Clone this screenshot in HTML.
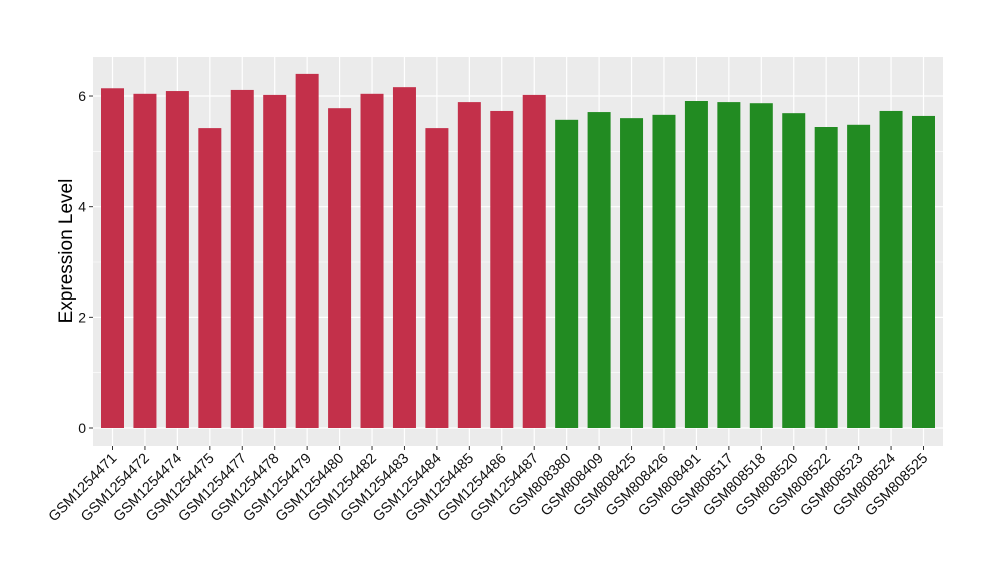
<!DOCTYPE html>
<html><head><meta charset="utf-8"><style>
body{margin:0;background:#fff;}
svg text{font-family:"Liberation Sans",Arial,sans-serif;}
</style></head><body>
<svg id="chart" width="1000" height="580">
<rect x="93" y="57" width="850" height="389" fill="#ebebeb"/>
<g id="grid"></g>
<g id="bars"></g>
<g id="axes"></g>
<text transform="translate(72,251) rotate(-90)" text-anchor="middle" font-size="19" fill="#000">Expression Level</text>
</svg>
<script>
const categories=["GSM1254471","GSM1254472","GSM1254474","GSM1254475","GSM1254477","GSM1254478","GSM1254479","GSM1254480","GSM1254482","GSM1254483","GSM1254484","GSM1254485","GSM1254486","GSM1254487","GSM808380","GSM808409","GSM808425","GSM808426","GSM808491","GSM808517","GSM808518","GSM808520","GSM808522","GSM808523","GSM808524","GSM808525"];
const values=[6.14,6.04,6.09,5.42,6.11,6.02,6.40,5.78,6.04,6.16,5.42,5.89,5.73,6.02,5.57,5.71,5.60,5.66,5.91,5.89,5.87,5.69,5.44,5.48,5.73,5.64];
const groups=["a","a","a","a","a","a","a","a","a","a","a","a","a","a","b","b","b","b","b","b","b","b","b","b","b","b"];
const yTicks=[0,2,4,6];
const yMinor=[1,3,5];
const colors={a:"#c3304a",b:"#228b22"};
const NS="http://www.w3.org/2000/svg";
const y=v=>428-v*55.33;
const x=i=>112.5+i*32.44;
const bw=23;
function mk(t,a,p){const e=document.createElementNS(NS,t);for(const k in a)e.setAttribute(k,a[k]);p.appendChild(e);return e;}
const grid=document.getElementById('grid'),bars=document.getElementById('bars'),axes=document.getElementById('axes');
yMinor.forEach(v=>{const l=mk('line',{x1:93,x2:943,y1:y(v),y2:y(v),stroke:'#fff','stroke-width':0.6},grid);

});
yTicks.forEach(v=>{const l=mk('line',{x1:93,x2:943,y1:y(v),y2:y(v),stroke:'#fff','stroke-width':1.2},grid);


const t=mk('line',{x1:89,x2:93,y1:y(v),y2:y(v),stroke:'#333','stroke-width':1},axes);


const tx=mk('text',{x:86,y:y(v)+5,'text-anchor':'end','font-size':14,fill:'#111'},axes);tx.textContent=v;

});
categories.forEach((c,i)=>{
const gl=mk('line',{x1:x(i),x2:x(i),y1:57,y2:446,stroke:'#fff','stroke-width':1.2},grid);


const r=mk('rect',{x:x(i)-bw/2,y:y(values[i]),width:bw,height:y(0)-y(values[i]),fill:colors[groups[i]]},bars);


const t=mk('line',{x1:x(i),x2:x(i),y1:446,y2:450,stroke:'#333','stroke-width':1},axes);


const tx=mk('text',{transform:`translate(${x(i)+5},${459}) rotate(-45)`,'text-anchor':'end','font-size':14.5,fill:'#111'},axes);tx.textContent=c;


});
</script>
</body></html>
